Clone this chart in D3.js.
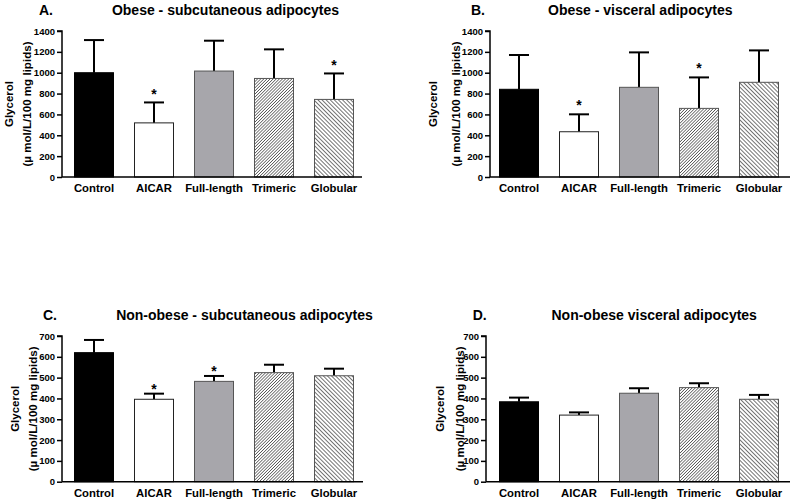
<!DOCTYPE html>
<html>
<head>
<meta charset="utf-8">
<script src="https://cdn.jsdelivr.net/npm/d3@7"></script>
<style>
  html, body { margin: 0; padding: 0; background: #fff; }
  svg { display: block; font-family: "Liberation Sans", Arial, sans-serif; }
</style>
</head>
<body>
<svg id="chart" width="793" height="502"></svg>
<script>
// ---- Data ----
const categories = ["Control", "AICAR", "Full-length", "Trimeric", "Globular"];
const panelLetters = ["A.", "B.", "C.", "D."];
const panelTitles = [
  "Obese - subcutaneous adipocytes",
  "Obese - visceral adipocytes",
  "Non-obese - subcutaneous adipocytes",
  "Non-obese visceral adipocytes"
];
const obeseSubcMeans   = [1000, 519, 1016, 945, 744];
const obeseSubcErr     = [313, 196, 291, 279, 249];
const obeseSubcSig     = [false, true, false, false, true];
const obeseViscMeans   = [841, 434, 860, 658, 908];
const obeseViscErr     = [329, 167, 335, 297, 306];
const obeseViscSig     = [false, true, false, true, false];
const nonObeseSubcMeans = [620, 396, 482, 524, 509];
const nonObeseSubcErr   = [61, 27, 26, 38, 34];
const nonObeseSubcSig   = [false, true, true, false, false];
const nonObeseViscMeans = [384, 320, 425, 452, 396];
const nonObeseViscErr   = [20, 13, 24, 21, 21];
const nonObeseViscSig   = [false, false, false, false, false];
const obeseTicks = [0, 200, 400, 600, 800, 1000, 1200, 1400];
const nonObeseTicks = [0, 100, 200, 300, 400, 500, 600, 700];
const yLabelLine1 = "Glycerol";
const yLabelLine2 = "(\u00b5 mol/L/100 mg lipids)";

// ---- Layout ----
const svg = d3.select("#chart");
const defs = svg.append("defs");

function hatch(id, angle, spacing, width) {
  const p = defs.append("pattern")
    .attr("id", id)
    .attr("patternUnits", "userSpaceOnUse")
    .attr("width", spacing).attr("height", spacing)
    .attr("patternTransform", `rotate(${angle})`);
  p.append("rect").attr("width", spacing).attr("height", spacing).attr("fill", "#fff");
  p.append("line").attr("x1", 0).attr("y1", -1).attr("x2", 0).attr("y2", spacing + 1)
    .attr("stroke", "#222").attr("stroke-width", width);
}
hatch("hatchTri", 45, 2.2, 1.15);
hatch("hatchGlob", -45, 2.9, 1.25);

const fills = ["#000", "#fff", "#a7a6ab", "url(#hatchTri)", "url(#hatchGlob)"];
const strokes = ["#000", "#222", "#555", "#555", "#555"];

const panels = [
  { letter: panelLetters[0], title: panelTitles[0], means: obeseSubcMeans, err: obeseSubcErr, sig: obeseSubcSig,
    ticks: obeseTicks, max: 1400, axisX: 62, axisEnd: 362, barRange: [64, 364], y0: 177, y1: 31,
    letterX: 39, titleX: 225.5, titleY: 15, lab1X: 13, lab2X: 31, starGap: 11 },
  { letter: panelLetters[1], title: panelTitles[1], means: obeseViscMeans, err: obeseViscErr, sig: obeseViscSig,
    ticks: obeseTicks, max: 1400, axisX: 490, axisEnd: 790, barRange: [489, 789], y0: 177, y1: 31,
    letterX: 471, titleX: 640.3, titleY: 15, lab1X: 437, lab2X: 460, starGap: 12 },
  { letter: panelLetters[2], title: panelTitles[2], means: nonObeseSubcMeans, err: nonObeseSubcErr, sig: nonObeseSubcSig,
    ticks: nonObeseTicks, max: 700, axisX: 62, axisEnd: 363, barRange: [64, 364], y0: 481.7, y1: 336,
    letterX: 43, titleX: 244.5, titleY: 319.5, lab1X: 19, lab2X: 37, starGap: 7.5 },
  { letter: panelLetters[3], title: panelTitles[3], means: nonObeseViscMeans, err: nonObeseViscErr, sig: nonObeseViscSig,
    ticks: nonObeseTicks, max: 700, axisX: 486, axisEnd: 790, barRange: [489, 789], y0: 481.7, y1: 336,
    letterX: 472.7, titleX: 654.2, titleY: 319.5, lab1X: 444, lab2X: 464, starGap: 7.5 }
];

panels.forEach(p => {
  const g = svg.append("g");
  const x = d3.scaleBand().domain(categories).range(p.barRange).paddingInner(1/3).paddingOuter(1/6);
  const y = d3.scaleLinear().domain([0, p.max]).range([p.y0, p.y1]);

  // titles
  g.append("text").attr("x", p.letterX).attr("y", p.titleY)
    .attr("font-size", 14).attr("font-weight", "bold").text(p.letter);
  g.append("text").attr("x", p.titleX).attr("y", p.titleY).attr("text-anchor", "middle")
    .attr("font-size", 14).attr("font-weight", "bold").text(p.title);

  // y label
  const cy = (p.y0 + p.y1) / 2;
  g.append("text").attr("transform", `translate(${p.lab1X},${cy}) rotate(-90)`)
    .attr("text-anchor", "middle").attr("font-size", 11.5).attr("font-weight", "bold").text(yLabelLine1);
  g.append("text").attr("transform", `translate(${p.lab2X},${cy}) rotate(-90)`)
    .attr("text-anchor", "middle").attr("font-size", 11.5).attr("font-weight", "bold")
    .attr("textLength", 125).attr("lengthAdjust", "spacing").text(yLabelLine2);

  const data = categories.map((c, i) => ({ c, i, m: p.means[i], e: p.err[i], s: p.sig[i] }));
  // error bars (upper only)
  data.forEach(d => {
    const cx = x(d.c) + x.bandwidth() / 2;
    g.append("line").attr("x1", cx).attr("x2", cx).attr("y1", y(d.m)).attr("y2", y(d.m + d.e))
      .attr("stroke", "#000").attr("stroke-width", 2);
    g.append("line").attr("x1", cx - x.bandwidth() / 4).attr("x2", cx + x.bandwidth() / 4)
      .attr("y1", y(d.m + d.e)).attr("y2", y(d.m + d.e))
      .attr("stroke", "#000").attr("stroke-width", 2);
    if (d.s) {
      g.append("text").attr("x", cx).attr("y", y(d.m + d.e) - p.starGap + 8)
        .attr("text-anchor", "middle").attr("font-size", 14).attr("font-weight", "bold").text("*");
    }
  });
  g.selectAll("rect.bar").data(data).enter().append("rect")
    .attr("class", "bar")
    .attr("x", d => x(d.c) + 0.5)
    .attr("y", d => y(d.m))
    .attr("width", x.bandwidth() - 1)
    .attr("height", d => y(0) - y(d.m))
    .attr("fill", d => fills[d.i])
    .attr("stroke", d => strokes[d.i])
    .attr("stroke-width", 1);

  // y axis
  const yAxis = d3.axisLeft(y).tickValues(p.ticks).tickSize(5).tickPadding(2).tickFormat(d3.format("d"));
  const ya = g.append("g").attr("transform", `translate(${p.axisX},0)`).call(yAxis);
  ya.select(".domain").attr("stroke-width", 1.5).attr("d", `M-5,${p.y1}H0V${p.y0}`);
  ya.selectAll(".tick line").attr("stroke-width", 1.5);
  ya.selectAll("text").attr("font-size", 9.5).attr("font-weight", "bold")
    .attr("font-family", "Liberation Sans, Arial, sans-serif").attr("fill", "#000");

  // x axis
  const xAxis = d3.axisBottom(x).tickSize(0).tickPadding(7);
  const xa = g.append("g").attr("transform", `translate(0,${p.y0})`).call(xAxis);
  xa.select(".domain").attr("d", `M${p.axisX},0H${p.axisEnd}`).attr("stroke-width", 1.5);
  xa.selectAll("text").attr("font-size", 11.3).attr("font-weight", "bold")
    .attr("font-family", "Liberation Sans, Arial, sans-serif").attr("fill", "#000");
});
</script>
</body>
</html>
